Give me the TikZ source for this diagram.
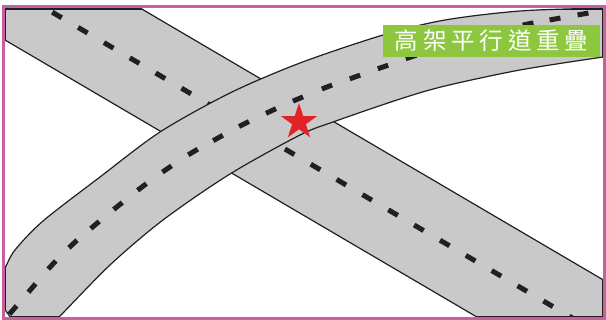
\documentclass[tikz,border=0pt]{standalone}
\usepackage{fontspec}
\newfontfamily\cjkfont{Noto Sans CJK TC}
\usetikzlibrary{shapes.geometric}
\definecolor{roadgray}{RGB}{201,201,201}
\definecolor{edgedark}{RGB}{35,31,32}
\definecolor{framepink}{RGB}{196,98,158}
\definecolor{labelgreen}{RGB}{141,198,63}
\definecolor{starred}{RGB}{226,35,38}
\tikzset{
  roadfill/.style={fill=roadgray},
  roadedge/.style={draw=edgedark, line width=1.2pt},
  roaddash/.style={draw=edgedark, line width=5pt},
  frameline/.style={draw=framepink, line width=3pt},
  labelbox/.style={fill=labelgreen, text=white, minimum width=217pt, minimum height=32pt, inner sep=0pt, font=\cjkfont\fontsize{23.5}{26}\selectfont},
  starmark/.style={star, star points=5, star point ratio=2.618, fill=starred, minimum size=38pt, inner sep=0pt}
}
\def\roadApath{(-100,-132.9) -- (700,336.7) -- (700,448) -- (-100,-21.6) -- cycle}
\def\roadBpath{plot[smooth] coordinates {(-8,292) (5,268) (15,250) (43,221) (100,177) (160,132) (230,93) (300,63) (383,35) (445,20) (520,11) (603,8) (640,7)} -- plot[smooth] coordinates {(640,52) (603,57) (520,70) (445,86) (400,99) (333,122) (300,135) (230,174) (163,220) (110,265) (58,318) (30,344)} -- cycle}
\begin{document}
\begin{tikzpicture}[x=1pt,y=-1pt]
\useasboundingbox (0,0) rectangle (606,320);
\begin{scope}
  \clip (5,8.5) rectangle (603,317);
  % descending road
  \fill[roadfill] \roadApath;
  \draw[roadedge] \roadApath;
  \foreach \i in {0,...,20}
    \draw[roaddash, shift={({57+25.85*\i},{15+15.2*\i})}, rotate=-30.4] (-5.5,0) -- (5.5,0);
  \begin{scope}
    \clip \roadApath;
    \draw[roadedge] (5.6,9.1) rectangle (602.4,316.4);
  \end{scope}
  % curved elevated road
  \fill[roadfill] \roadBpath;
  \draw[roadedge] \roadBpath;
  \foreach \x/\y/\a in {13/310/49, 32/288/49, 52/265/47, 73/244/43, 95/225/40, 118/206/39, 142/187/37, 167/169/34, 193/152/31, 218/138/29, 244/124/27, 271/111/25, 298/99/23, 327/87/21, 355/77/20, 383/67/19, 411/57/18, 440/48/17, 469/39/16, 498/31/14, 528/24/12, 555/19/10, 583/14/10}
    \draw[roaddash, shift={(\x,\y)}, rotate=\a] (-5.5,0) -- (5.5,0);
  \begin{scope}
    \clip \roadBpath;
    \draw[roadedge] (5.6,9.1) rectangle (602.4,316.4);
  \end{scope}
\end{scope}
\draw[frameline] (3.5,7) rectangle (604.5,318.5);
\node[starmark] (star) at (299,122) {};
\node[labelbox] (label) at (491.5,41) {高\kern4.8pt架\kern4.8pt平\kern4.8pt行\kern4.8pt道\kern4.8pt重\kern4.8pt疊};
\end{tikzpicture}
\end{document}
